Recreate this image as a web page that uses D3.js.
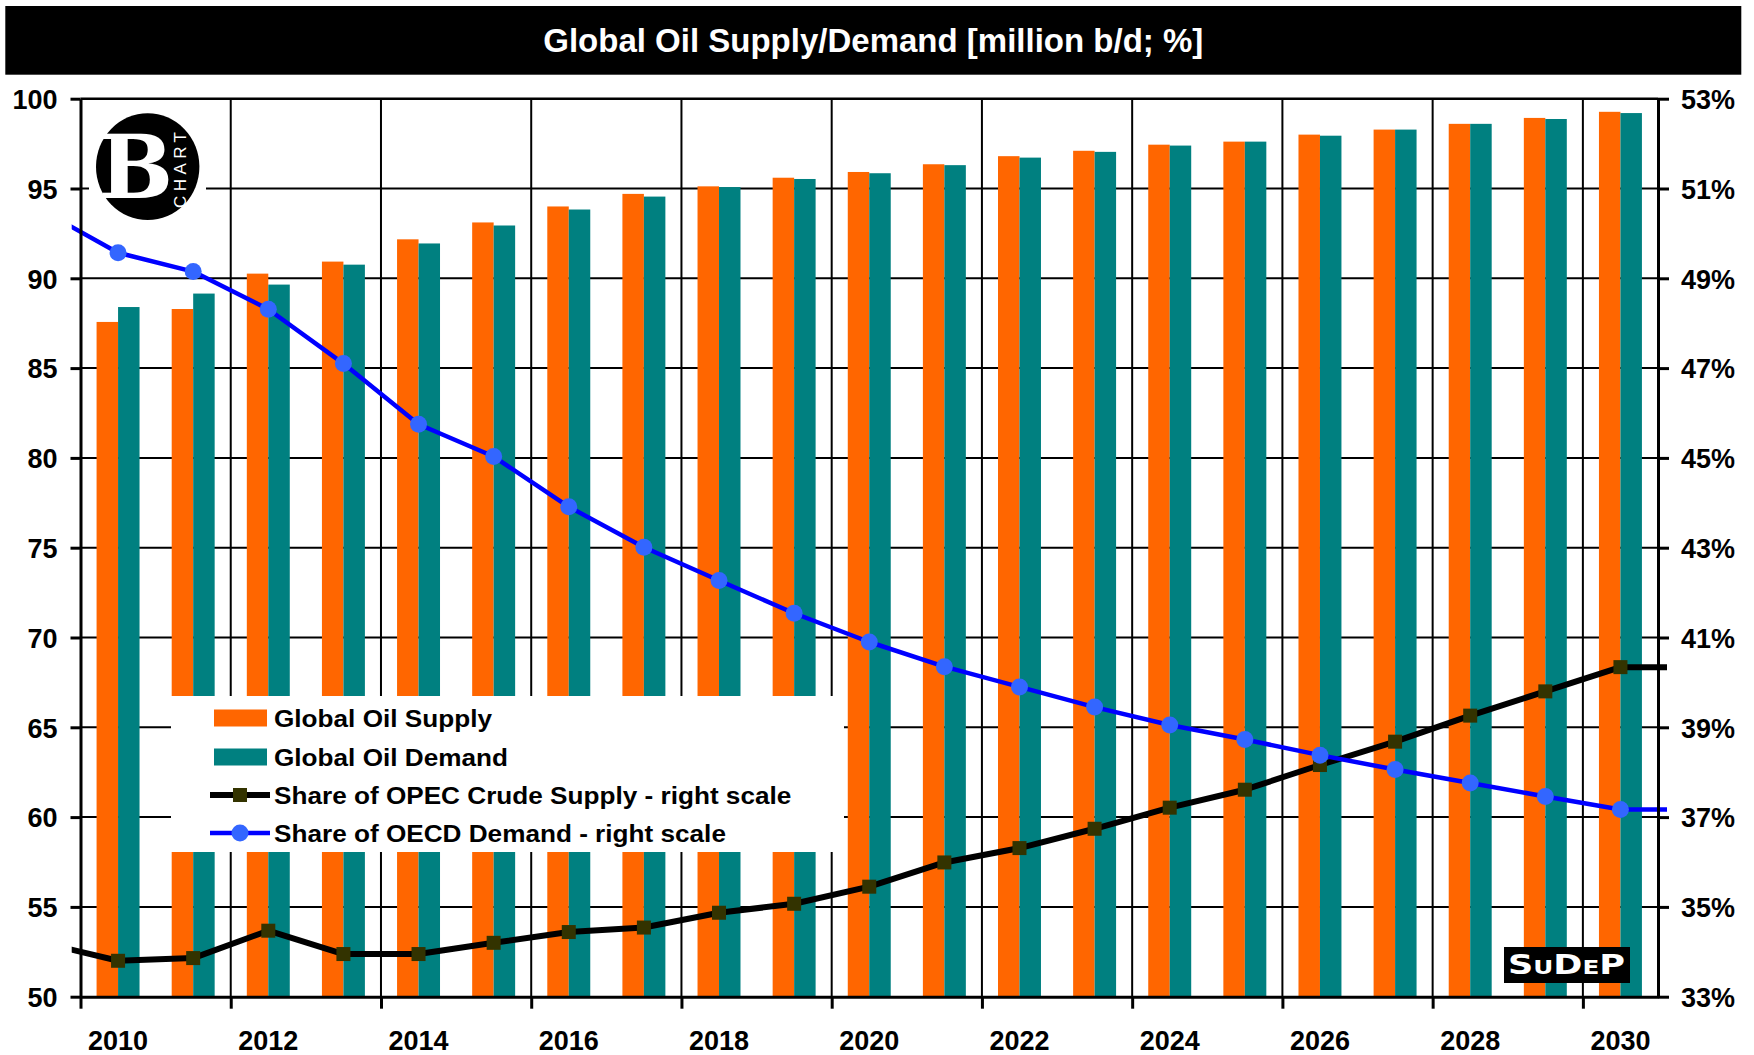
<!DOCTYPE html>
<html><head><meta charset="utf-8">
<script src="https://cdn.jsdelivr.net/npm/d3@7"></script>
<style>
body{margin:0;background:#fff}
svg{display:block}
text{font-family:"Liberation Sans",Arial,sans-serif;font-weight:bold}
</style>
</head><body>
<svg id="c" width="1754" height="1055"></svg>
<script>
const years = [2010,2011,2012,2013,2014,2015,2016,2017,2018,2019,2020,2021,2022,2023,2024,2025,2026,2027,2028,2029,2030];
const supply = [87.57,88.29,90.26,90.93,92.17,93.11,94.0,94.7,95.12,95.6,95.92,96.35,96.8,97.1,97.44,97.61,98.0,98.28,98.6,98.93,99.27];
const demand = [88.4,89.15,89.65,90.76,91.94,92.94,93.83,94.55,95.08,95.53,95.85,96.3,96.72,97.04,97.39,97.61,97.94,98.28,98.6,98.87,99.2];
const opecShare = [33.8,33.86,34.47,33.95,33.95,34.2,34.44,34.54,34.87,35.07,35.45,35.99,36.31,36.74,37.21,37.61,38.16,38.68,39.26,39.8,40.34];
const oecdShare = [49.57,49.15,48.31,47.1,45.75,45.03,43.91,43.01,42.27,41.54,40.9,40.35,39.9,39.45,39.05,38.73,38.38,38.06,37.76,37.46,37.17];
const opecEdge = [34.2, 40.34];   // line lead-in before 2010 and run-out after 2030
const oecdEdge = [50.5, 37.17];
const leftTicks = [50,55,60,65,70,75,80,85,90,95,100];
const rightTicks = [33,35,37,39,41,43,45,47,49,51,53];
const yearLabels = [2010,2012,2014,2016,2018,2020,2022,2024,2026,2028,2030];
const boundaryTicks = [0,2,4,6,8,10,12,14,16,18,20];
const seriesNames = ["Global Oil Supply","Global Oil Demand","Share of OPEC Crude Supply - right scale","Share of OECD Demand - right scale"];
const title = "Global Oil Supply/Demand [million b/d; %]";

const C = {supply:"#FF6600", demand:"#008080", opec:"#000000", opecMark:"#333300", oecd:"#0000FF", oecdMark:"#3366FF"};
const L = 80.5, R = 1658, T = 98.7, B = 996.7;

const svg = d3.select("#c");
svg.append("rect").attr("width",1754).attr("height",1055).attr("fill","#fff");

// title bar
svg.append("rect").attr("x",5.3).attr("y",6).attr("width",1736).attr("height",68.7).attr("fill","#000");
svg.append("text").attr("x",873.3).attr("y",52).attr("text-anchor","middle")
  .attr("fill","#fff").attr("font-size",33).text(title);

const x0 = d3.scaleBand().domain(years).range([L,R]).paddingInner(0.428).paddingOuter(0.214);
const bw = x0.bandwidth();
const x1 = d3.scaleBand().domain(["supply","demand"]).range([0,bw]);
const xb = d3.scaleLinear().domain([0,years.length]).range([L,R]);
const xc = d3.scaleLinear().domain([years[0],years[years.length-1]])
  .range([x0(years[0])+bw/2, x0(years[years.length-1])+bw/2]);
const yL = d3.scaleLinear().domain([50,100]).range([B,T]);
const yR = d3.scaleLinear().domain([33,53]).range([B,T]);

// gridlines
const grid = svg.append("g").attr("stroke","#000");
grid.selectAll("line.h").data(leftTicks.filter(d=>d>50)).join("line")
  .attr("x1",L).attr("x2",R).attr("y1",d=>yL(d)).attr("y2",d=>yL(d))
  .attr("stroke-width",d=>d===100?2.6:2);
grid.selectAll("line.v").data(boundaryTicks.filter(d=>d>0)).join("line")
  .attr("x1",d=>xb(d)).attr("x2",d=>xb(d)).attr("y1",T).attr("y2",B).attr("stroke-width",2);

// bars
const barData = years.map((y,i)=>({year:y, supply:supply[i], demand:demand[i]}));
const bars = svg.append("g");
bars.selectAll("g").data(barData).join("g")
  .attr("transform",d=>`translate(${x0(d.year)},0)`)
  .selectAll("rect").data(d=>["supply","demand"].map(k=>({k, v:d[k]}))).join("rect")
  .attr("x",d=>x1(d.k)).attr("width",x1.bandwidth())
  .attr("y",d=>yL(d.v)).attr("height",d=>B-yL(d.v)).attr("fill",d=>C[d.k]);

// logo (top-left)
const logo = svg.append("g");
logo.append("rect").attr("x",89).attr("y",104).attr("width",117).attr("height",122).attr("fill","#fff");
logo.append("ellipse").attr("cx",147.7).attr("cy",166.7).attr("rx",51.7).attr("ry",53.4).attr("fill","#000");
logo.append("text").attr("x",136).attr("y",198).attr("text-anchor","middle").attr("fill","#fff")
  .attr("font-size",88).style("font-family","'DejaVu Serif',serif").text("B");
logo.append("text").attr("transform","translate(186,170) rotate(-90)").attr("text-anchor","middle")
  .attr("fill","#fff").attr("font-size",17).style("font-weight","normal").attr("textLength",76).text("CHART");

// lines (clipped a little beyond the plot edges)
svg.append("clipPath").attr("id","lc").append("rect").attr("x",71.7).attr("y",0).attr("width",1667-71.7).attr("height",1055);
function lineData(vals, edge){
  const pts = vals.map((v,i)=>[xc(years[i]), yR(v)]);
  pts.unshift([xc(years[0]-1), yR(edge[0])]);
  pts.push([xc(years[years.length-1]+1), yR(edge[1])]);
  return pts;
}
const lg = svg.append("g").attr("clip-path","url(#lc)");
lg.append("path").attr("d",d3.line()(lineData(opecShare,opecEdge))).attr("fill","none")
  .attr("stroke",C.opec).attr("stroke-width",6).attr("stroke-linejoin","round");
lg.append("path").attr("d",d3.line()(lineData(oecdShare,oecdEdge))).attr("fill","none")
  .attr("stroke",C.oecd).attr("stroke-width",4.5).attr("stroke-linejoin","round");
svg.append("g").selectAll("rect").data(opecShare).join("rect")
  .attr("x",(d,i)=>xc(years[i])-7).attr("y",d=>yR(d)-7).attr("width",14).attr("height",14).attr("fill",C.opecMark);
svg.append("g").selectAll("circle").data(oecdShare).join("circle")
  .attr("cx",(d,i)=>xc(years[i])).attr("cy",d=>yR(d)).attr("r",8.5).attr("fill",C.oecdMark);

// axes
function styleAxis(g){
  g.selectAll("path,line").attr("stroke","#000").attr("stroke-width",3);
  g.selectAll("text").attr("fill","#000").attr("font-size",27).style("font-family",'"Liberation Sans",Arial,sans-serif').style("font-weight","bold");
}
svg.append("g").attr("transform",`translate(${L},0)`)
  .call(d3.axisLeft(yL).tickValues(leftTicks).tickSize(10).tickSizeOuter(0).tickPadding(13))
  .call(styleAxis).call(g=>g.selectAll("text").attr("dy","0.36em"));
svg.append("g").attr("transform",`translate(${R},0)`)
  .call(d3.axisRight(yR).tickValues(rightTicks).tickSize(11).tickSizeOuter(0).tickPadding(12).tickFormat(d=>d+"%"))
  .call(styleAxis).call(g=>g.selectAll("text").attr("dy","0.36em"));
svg.append("g").attr("transform",`translate(0,${B})`)
  .call(d3.axisBottom(xb).tickValues(boundaryTicks).tickSize(12).tickSizeOuter(0).tickFormat(""))
  .call(styleAxis);
svg.append("g").attr("transform",`translate(0,${B})`)
  .call(d3.axisBottom(x0).tickValues(yearLabels).tickSize(0).tickPadding(34))
  .call(styleAxis).call(g=>g.select(".domain").remove());

// legend
const leg = svg.append("g");
leg.append("rect").attr("x",171).attr("y",696).attr("width",673).attr("height",156).attr("fill","#fff");
const rowsY = [718,757,795,833];
leg.append("rect").attr("x",214).attr("y",rowsY[0]-8.5).attr("width",53).attr("height",17).attr("fill",C.supply);
leg.append("rect").attr("x",214).attr("y",rowsY[1]-8.5).attr("width",53).attr("height",17).attr("fill",C.demand);
leg.append("line").attr("x1",210).attr("x2",270).attr("y1",rowsY[2]).attr("y2",rowsY[2]).attr("stroke",C.opec).attr("stroke-width",6);
leg.append("rect").attr("x",233).attr("y",rowsY[2]-7).attr("width",14).attr("height",14).attr("fill",C.opecMark);
leg.append("line").attr("x1",210).attr("x2",270).attr("y1",rowsY[3]).attr("y2",rowsY[3]).attr("stroke",C.oecd).attr("stroke-width",4.5);
leg.append("circle").attr("cx",240).attr("cy",rowsY[3]).attr("r",8.5).attr("fill",C.oecdMark);
leg.selectAll("text").data(seriesNames).join("text")
  .attr("transform",(d,i)=>`translate(274,${rowsY[i]+8.5}) scale(1.09,1)`)
  .attr("font-size",24).attr("fill","#000").text(d=>d);

// SuDeP badge
const sd = svg.append("g");
sd.append("rect").attr("x",1504).attr("y",947).attr("width",126).attr("height",36).attr("fill","#000");
const st = sd.append("text").attr("x",1508).attr("y",974).attr("fill","#fff")
  .style("font-family","'DejaVu Sans',sans-serif").attr("textLength",117).attr("lengthAdjust","spacingAndGlyphs");
[["S",27],["U",19],["D",27],["E",19],["P",27]].forEach(([c,s])=>st.append("tspan").attr("font-size",s).text(c));
</script>
</body></html>
